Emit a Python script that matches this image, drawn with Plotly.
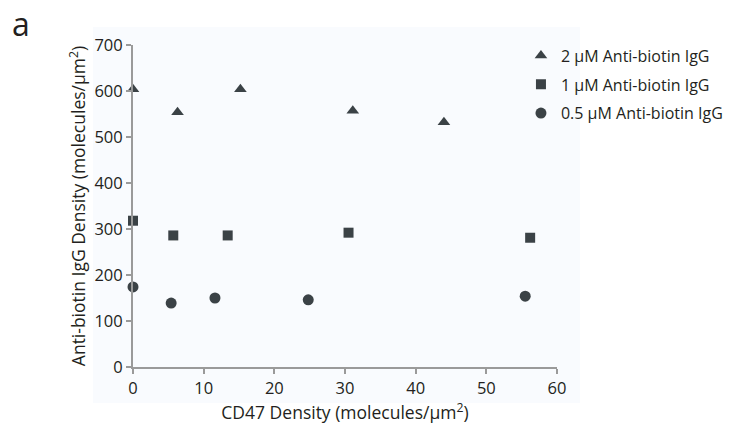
import plotly.graph_objects as go

# CD47 density (molecules/um^2) and bound anti-biotin IgG density (molecules/um^2)
cd47_2uM = [0, 6.3, 15.2, 31.1, 44.0]
igg_2uM = [604, 554, 604, 557, 532]

cd47_1uM = [0, 5.7, 13.4, 30.5, 56.2]
igg_1uM = [318, 286, 286, 292, 281]

cd47_05uM = [0, 5.4, 11.6, 24.8, 55.5]
igg_05uM = [174, 139, 150, 146, 154]

series_names = ["2 μM Anti-biotin IgG", "1 μM Anti-biotin IgG", "0.5 μM Anti-biotin IgG"]
x_ticks = [0, 10, 20, 30, 40, 50, 60]
y_ticks = [0, 100, 200, 300, 400, 500, 600, 700]

MARK = "#3b4246"
TEXT = "#231f20"
AXIS = "#9a9a9a"
FONT = "Open Sans"

fig = go.Figure()
for xs, ys, name, sym, size in [
    (cd47_2uM, igg_2uM, series_names[0], "triangle-up", 11),
    (cd47_1uM, igg_1uM, series_names[1], "square", 10),
    (cd47_05uM, igg_05uM, series_names[2], "circle", 11),
]:
    fig.add_trace(go.Scatter(
        x=xs, y=ys, mode="markers", name=name, legendgroup=name,
        marker=dict(symbol=sym, size=size, color=MARK, line=dict(width=0)),
        cliponaxis=False,
    ))

# light panel behind the axes
fig.add_shape(type="rect", xref="paper", yref="paper",
              x0=-0.094, x1=1.054, y0=-0.112, y1=1.056,
              fillcolor="#f9fbfe", line=dict(width=0), layer="below")

axis_common = dict(
    showgrid=False, zeroline=False, showline=True, linecolor=AXIS, linewidth=2,
    ticks="outside", ticklen=5, tickwidth=2, tickcolor=AXIS,
    tickfont=dict(family=FONT, size=16.5, color=TEXT),
)

fig.update_xaxes(range=[0, 60], tickvals=x_ticks, **axis_common,
                 title=dict(text="CD47 Density (molecules/μm<sup>2</sup>)",
                            font=dict(family=FONT, size=17.5, color=TEXT), standoff=8))
fig.update_yaxes(range=[0, 700], tickvals=y_ticks, **axis_common,
                 title=dict(text="Anti-biotin IgG Density (molecules/μm<sup>2</sup>)",
                            font=dict(family=FONT, size=17.5, color=TEXT), standoff=4))

# panel letter
fig.add_annotation(text="a", xref="paper", yref="paper", x=-0.29, y=1.139,
                   xanchor="left", yanchor="top", showarrow=False,
                   font=dict(family=FONT, size=32, color=TEXT))

fig.update_layout(
    width=729, height=432,
    margin=dict(l=133, r=172, t=45, b=65, autoexpand=False),
    paper_bgcolor="white", plot_bgcolor="rgba(0,0,0,0)",
    showlegend=True,
    legend=dict(x=0.915, y=1.02, xanchor="left", yanchor="top",
                bgcolor="rgba(0,0,0,0)", traceorder="grouped", tracegroupgap=5,
                font=dict(family=FONT, size=16, color=TEXT), itemwidth=30),
)

fig.write_html("out.html")
